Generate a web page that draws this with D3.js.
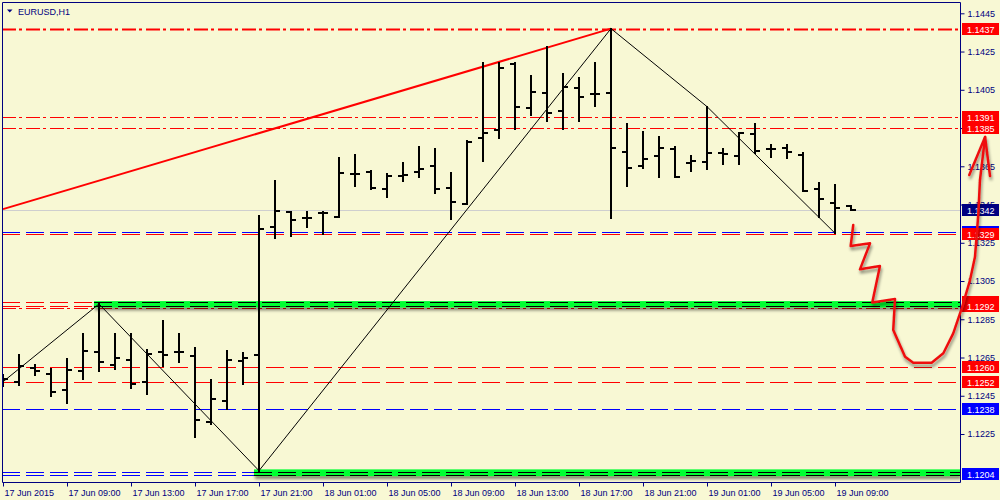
<!DOCTYPE html>
<html>
<head>
<meta charset="utf-8">
<script src="https://cdn.jsdelivr.net/npm/d3@7"></script>
<style>
  body { margin: 0; background: #f8f8d4; }
  svg { display: block; font-family: "Liberation Sans", Arial, sans-serif; }
</style>
</head>
<body>
<svg id="chart" width="1000" height="500"></svg>
<script>
// EURUSD H1 bars, index 0 = 17 Jun 2015 05:00
const open = [1.12522,1.12523,1.12596,1.12564,1.12481,1.12581,1.12680,1.12611,1.12638,1.12523,
  1.12680,1.12677,1.12659,1.12314,1.12424,1.12633,1.12663,1.13334,1.13409,1.13381,
  1.13404,1.13386,1.13611,1.13618,1.13531,1.13601,1.13622,1.13653,1.13538,1.13453,
  1.13796,1.13840,1.14185,1.13953,1.14032,1.13937,1.14058,1.14026,1.14032,1.13726,
  1.13651,1.13705,1.13739,1.13665,1.13674,1.13718,1.13705,1.13817,1.13740,1.13747,
  1.13709,1.13529,1.13459,1.13442];
const high = [1.12558,1.12663,1.12611,1.12588,1.12640,1.12773,1.12930,1.12773,1.12773,1.12689,
  1.12841,1.12773,1.12698,1.12532,1.12684,1.12672,1.13390,1.13573,1.13412,1.13409,
  1.13409,1.13692,1.13709,1.13625,1.13609,1.13669,1.13749,1.13739,1.13616,1.13782,
  1.14188,1.14188,1.14188,1.14122,1.14272,1.14131,1.14110,1.14192,1.14370,1.13869,
  1.13828,1.13801,1.13749,1.13705,1.13962,1.13739,1.13826,1.13871,1.13761,1.13761,
  1.13718,1.13561,1.13552,1.13442];
const low = [1.12501,1.12506,1.12558,1.12450,1.12410,1.12537,1.12578,1.12588,1.12489,1.12457,
  1.12605,1.12628,1.12236,1.12300,1.12379,1.12510,1.12058,1.13276,1.13287,1.13331,
  1.13296,1.13383,1.13548,1.13529,1.13488,1.13574,1.13595,1.13509,1.13374,1.13453,
  1.13679,1.13799,1.13845,1.13918,1.13888,1.13845,1.13888,1.13965,1.13378,1.13548,
  1.13639,1.13595,1.13592,1.13627,1.13637,1.13660,1.13660,1.13718,1.13700,1.13692,
  1.13522,1.13386,1.13300,1.13420];
const close = [1.12537,1.12605,1.12581,1.12469,1.12586,1.12685,1.12625,1.12649,1.12511,1.12670,
  1.12663,1.12677,1.12323,1.12431,1.12638,1.12649,1.13322,1.13418,1.13369,1.13381,
  1.13404,1.13616,1.13611,1.13538,1.13601,1.13606,1.13636,1.13531,1.13465,1.13778,
  1.13826,1.14165,1.13962,1.14040,1.13927,1.14066,1.14014,1.14026,1.13744,1.13642,
  1.13690,1.13746,1.13594,1.13679,1.13718,1.13713,1.13826,1.13731,1.13740,1.13723,
  1.13522,1.13477,1.13433,1.13420];

// time axis
const xTickIdx = [0,4,8,12,16,20,24,28,32,36,40,44,48,52];
const xTickLabels = ["17 Jun 2015","17 Jun 09:00","17 Jun 13:00","17 Jun 17:00","17 Jun 21:00",
  "18 Jun 01:00","18 Jun 05:00","18 Jun 09:00","18 Jun 13:00","18 Jun 17:00","18 Jun 21:00",
  "19 Jun 01:00","19 Jun 05:00","19 Jun 09:00"];
const yTicks = [1.1225,1.1245,1.1265,1.1285,1.1305,1.1325,1.1345,1.1365,1.1385,1.1405,1.1425,1.1445];

// horizontal levels
const redDashDot = [1.1391, 1.1385, 1.12907];
const topLevel = 1.1437;
const redDashed = [1.13295, 1.1294, 1.1292, 1.1260, 1.1252];
const blueDashed = [1.13305, 1.1238, 1.1205, 1.12035];
const bidPrice = 1.1342;

// green zones: start bar, top, bottom price, dashed lines inside
const zoneStart = [6, 16];
const zoneTop = [1.12945, 1.12065];
const zoneBottom = [1.12912, 1.12030];
const zoneLines = [[1.1294, 1.1292], [1.1205, 1.12035]];

// zigzag and trend line
const zigIdx = [0, 6, 16, 38, 44, 52];
const zigPrice = [1.12523, 1.12930, 1.12058, 1.14370, 1.13962, 1.13300];
const trendIdx = [0, 38];
const trendPrice = [1.13426, 1.14370];

// hand drawn forecast arrow
const arrowIdx = [53.14,52.98,54.19,53.56,54.81,54.33,55.75,55.64,56.38,56.89,58.04,58.77,59.39,59.92,60.44,60.75,60.96,61.06,61.38];
const arrowPrice = [1.13343,1.13233,1.13247,1.13111,1.13128,1.12938,1.12956,1.12794,1.12654,1.12623,1.12623,1.12672,1.12776,1.12907,1.13055,1.13177,1.13404,1.13578,1.13803];
const barbIdx = [60.39, 61.38, 61.69];
const barbPrice = [1.13604, 1.13803, 1.13599];

// price labels on the right axis
const redLabels = [1.1437, 1.1391, 1.1385, 1.13295, 1.1294, 1.1292, 1.1260, 1.1252];
const redLabelText = ["1.1437","1.1391","1.1385","1.1329","1.1294","1.1292","1.1260","1.1252"];
const blueLabels = [1.13305, 1.1238, 1.1204];
const blueLabelText = ["1.1330","1.1238","1.1204"];

const svg = d3.select("#chart");
const L = 2, R = 960, T = 2, B = 482;
const navy = "#000080";

const x = d3.scaleLinear().domain([0, 1]).range([3, 19]);
const y = d3.scaleLinear().domain([1.1225, 1.1445]).range([434, 13.3]);

const defs = svg.append("defs");
defs.append("clipPath").attr("id", "plot")
  .append("rect").attr("x", L).attr("y", T).attr("width", R - L).attr("height", B - T);
defs.append("filter").attr("id", "shadow")
  .attr("x", "-10%").attr("y", "-60%").attr("width", "130%").attr("height", "320%")
  .append("feDropShadow")
  .attr("dx", 1).attr("dy", 3).attr("stdDeviation", 1.8)
  .attr("flood-color", "#000").attr("flood-opacity", 0.45);

svg.append("rect").attr("width", 1000).attr("height", 500).attr("fill", "#f8f8d4");

const plot = svg.append("g").attr("clip-path", "url(#plot)");

function hline(g, p, color, dash, w) {
  g.append("line")
    .attr("x1", L).attr("x2", R)
    .attr("y1", Math.round(y(p)) + 0.5).attr("y2", Math.round(y(p)) + 0.5)
    .attr("stroke", color).attr("stroke-width", w || 1)
    .attr("stroke-dasharray", dash);
}

// levels
hline(plot, topLevel, "#ff0000", "14,3,3,4", 2);
redDashDot.forEach((p) => hline(plot, p, "#ff0000", "14,3,3,4"));
redDashed.forEach((p) => hline(plot, p, "#ff0000", "18,6"));
blueDashed.forEach((p) => hline(plot, p, "#0000ff", "18,6"));
hline(plot, bidPrice, "#cfcfcf", null);

// green zones
zoneStart.forEach((s, i) => {
  const x0 = x(s) - 5;
  plot.append("rect")
    .attr("x", x0).attr("y", y(zoneTop[i]))
    .attr("width", R - x0).attr("height", y(zoneBottom[i]) - y(zoneTop[i]))
    .attr("fill", "#00ff33").attr("filter", "url(#shadow)");
  zoneLines[i].forEach((p) => {
    plot.append("line")
      .attr("x1", x0).attr("x2", R)
      .attr("y1", Math.round(y(p)) + 0.5).attr("y2", Math.round(y(p)) + 0.5)
      .attr("stroke", "#000").attr("stroke-width", 1)
      .attr("stroke-dasharray", "18,6");
  });
});

// zigzag
plot.append("path")
  .datum(zigIdx.map((d, i) => [d, zigPrice[i]]))
  .attr("fill", "none").attr("stroke", "#000").attr("stroke-width", 1)
  .attr("d", d3.line().x((d) => x(d[0])).y((d) => y(d[1])));

// trend line
plot.append("path")
  .datum(trendIdx.map((d, i) => [d, trendPrice[i]]))
  .attr("fill", "none").attr("stroke", "#ff0000").attr("stroke-width", 2)
  .attr("d", d3.line().x((d) => x(d[0])).y((d) => y(d[1])));

// OHLC bars
const bars = plot.append("g").attr("stroke", "#000").attr("stroke-width", 2);
open.forEach((o, i) => {
  const cx = x(i);
  bars.append("line").attr("x1", cx).attr("x2", cx)
    .attr("y1", Math.round(y(high[i])) - 1).attr("y2", Math.round(y(low[i])) + 1);
  bars.append("line").attr("x1", cx - 5).attr("x2", cx)
    .attr("y1", Math.round(y(o))).attr("y2", Math.round(y(o)));
  bars.append("line").attr("x1", cx).attr("x2", cx + 5)
    .attr("y1", Math.round(y(close[i]))).attr("y2", Math.round(y(close[i])));
});

// frame
svg.append("path")
  .attr("d", `M${L + 0.5},${T + 0.5}H${R + 0.5}V${B + 0.5}H${L + 0.5}Z`)
  .attr("fill", "none").attr("stroke", navy).attr("stroke-width", 1);

// axes
const xAxis = svg.append("g").attr("transform", `translate(0,${B + 0.5})`)
  .call(d3.axisBottom(x).tickValues(xTickIdx).tickSize(4)
    .tickFormat((d, i) => xTickLabels[i]));
xAxis.select(".domain").remove();
xAxis.selectAll("line").attr("stroke", navy);
xAxis.selectAll("text").attr("text-anchor", "start").attr("dx", 1)
  .attr("fill", navy).style("font-size", "9px");

const yAxis = svg.append("g").attr("transform", `translate(${R + 0.5},0)`)
  .call(d3.axisRight(y).tickValues(yTicks).tickSize(4)
    .tickFormat(d3.format(".4f")));
yAxis.select(".domain").remove();
yAxis.selectAll("line").attr("stroke", navy);
yAxis.selectAll("text").attr("fill", navy).style("font-size", "9px");

// price boxes
function priceBox(p, text, color) {
  const cy = Math.round(y(p));
  svg.append("rect").attr("x", 962).attr("y", cy - 6)
    .attr("width", 37).attr("height", 12).attr("fill", color);
  svg.append("text").attr("x", 967).attr("y", cy + 3.5)
    .attr("fill", "#fff").style("font-size", "9px").text(text);
}
blueLabels.forEach((p, i) => priceBox(p, blueLabelText[i], "#0000ff"));
redLabels.forEach((p, i) => priceBox(p, redLabelText[i], "#ff0000"));
priceBox(bidPrice, "1.1342", navy);

// title
svg.append("path").attr("d", "M7,9.5H12.5L9.75,12.5Z").attr("fill", navy);
svg.append("text").attr("x", 18).attr("y", 14.5)
  .attr("fill", navy).style("font-size", "9px").text("EURUSD,H1");

// forecast arrow
const arrowLine = d3.line().x((d) => x(d[0])).y((d) => y(d[1]));
const arrow = svg.append("g").attr("filter", "url(#shadow)")
  .attr("fill", "none").attr("stroke", "#ee1111").attr("stroke-width", 2.5)
  .attr("stroke-linejoin", "round").attr("stroke-linecap", "round");
arrow.append("path")
  .datum(arrowIdx.map((d, i) => [d, arrowPrice[i]]))
  .attr("d", arrowLine);
arrow.append("path")
  .datum(barbIdx.map((d, i) => [d, barbPrice[i]]))
  .attr("d", arrowLine);
</script>
</body>
</html>
